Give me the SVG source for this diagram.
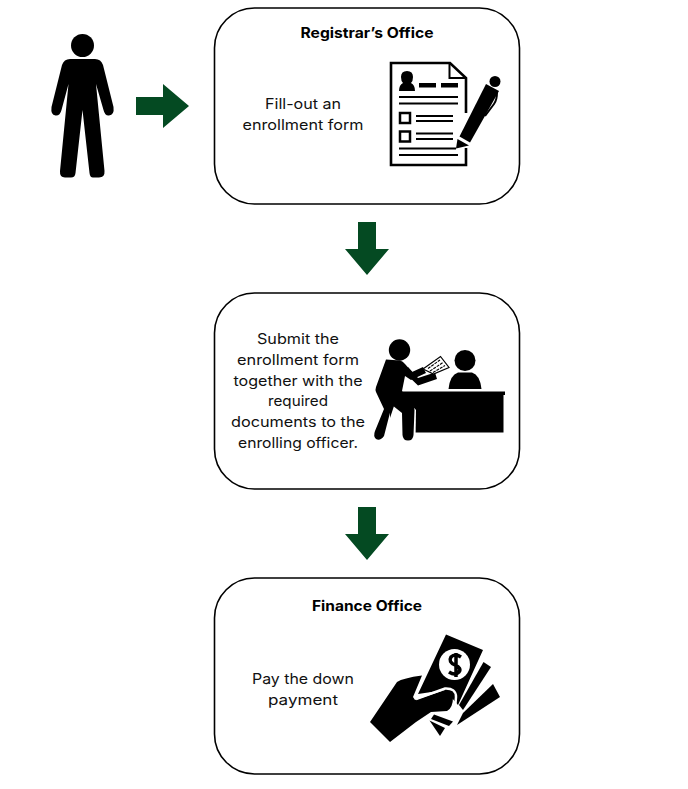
<svg xmlns="http://www.w3.org/2000/svg" width="688" height="789" viewBox="0 0 688 789">
<style>
.box{fill:#fff;stroke:#000;stroke-width:1.6}
.arrow{fill:#044a22}
.t{font-family:"Inter","Liberation Sans",sans-serif;font-size:14.4px;fill:#111;text-anchor:middle}
.h{font-family:"Inter","Liberation Sans",sans-serif;font-size:14.4px;font-weight:700;fill:#000;text-anchor:middle}
.k{fill:#000}
.w{fill:#fff}
.ln{stroke:#000;stroke-width:2;fill:none}
</style>
<rect width="688" height="789" fill="#fff"/>
<g id="connectors">
<polygon class="arrow" points="136,97 163,97 163,84 189,106 163,128 163,115 136,115"/>
<polygon class="arrow" points="358,222 376,222 376,249 389,249 367,275 345,249 358,249"/>
<polygon class="arrow" points="358,507 376,507 376,534 389,534 367,560 345,534 358,534"/>
</g>
<g id="person">
<circle class="k" cx="82.500" cy="45.500" r="11.500"/>
<path class="k" d="M70 59H95Q101 59 103 65L113.500 107Q114.500 115 109 115.500Q105 116 103.500 110L96 84L104.500 171Q105 177.500 99 177.500H93Q90 177.500 89.500 173L82.500 110L75.500 173Q75 177.500 71 177.500H65Q59.500 177.500 60 171L68.500 84L61.500 110Q60 116 55.500 115.500Q50.500 115 51.500 107L62 65Q64 59 70 59Z"/>
</g>
<g id="registrar">
<rect class="box" x="214.500" y="8" width="305" height="196" rx="40"/>
<text class="h" x="367" y="37.500" textLength="133" lengthAdjust="spacingAndGlyphs">Registrar’s Office</text>
<text class="t" x="303" y="109" textLength="76" lengthAdjust="spacingAndGlyphs">Fill-out an</text>
<text class="t" x="303" y="130" textLength="121" lengthAdjust="spacingAndGlyphs">enrollment form</text>
<g id="form-icon">
<path d="M466 113V78L450 63H391V165H466V148" fill="none" stroke="#000" stroke-width="2.600"/>
<path d="M449.500 63V78H466" fill="none" stroke="#000" stroke-width="2"/>
<path class="k" d="M407 71Q413 71 413 77Q413 81 411 83Q415 85 415 91H399Q399 85 403 83Q401 81 401 77Q401 71 407 71Z"/>
<rect class="k" x="419" y="83" width="17" height="4.500"/>
<rect class="k" x="441" y="83" width="17" height="4.500"/>
<path class="ln" d="M399 97H458M399 103.500H458M416 116H453M416 121H453M416 133.500H453M416 139H453M399 148.500H456M399 155H458"/>
<rect x="400" y="113" width="10" height="10" fill="none" stroke="#000" stroke-width="2.500"/>
<rect x="400" y="131.500" width="10" height="10" fill="none" stroke="#000" stroke-width="2.500"/>
<path class="k" d="M456 148.500L457.500 139L469 145.500Z"/>
<path class="k" d="M459.500 136.500L486 84L499 91L470 142.500Z"/>
<circle class="k" cx="495" cy="81.500" r="5.500"/>
<path d="M497 92Q497 100 494 104L485 116" fill="none" stroke="#000" stroke-width="2"/>
</g>
</g>
<g id="submit">
<rect class="box" x="214.500" y="293" width="305" height="196" rx="40"/>
<text class="t" x="298" y="344" textLength="82" lengthAdjust="spacingAndGlyphs">Submit the</text>
<text class="t" x="298" y="365" textLength="122" lengthAdjust="spacingAndGlyphs">enrollment form</text>
<text class="t" x="298" y="386" textLength="129" lengthAdjust="spacingAndGlyphs">together with the</text>
<text class="t" x="298" y="406" textLength="60" lengthAdjust="spacingAndGlyphs">required</text>
<text class="t" x="298" y="427" textLength="134" lengthAdjust="spacingAndGlyphs">documents to the</text>
<text class="t" x="298" y="448" textLength="120" lengthAdjust="spacingAndGlyphs">enrolling officer.</text>
<g id="officer-icon">
<circle class="k" cx="399.500" cy="350" r="10.700"/>
<circle class="k" cx="465" cy="360.500" r="10.500"/>
<path class="k" d="M448.500 389Q450 375 458 372.500H472Q480 375 481.500 389Z"/>
<path class="k" d="M402 391.500H505V395H503.500V432.500H390V405Z"/>
<path class="w" d="M399 391L416 410L415.500 440H399L385 433Z"/>
<path class="k" d="M386 359.500L400 360.500Q403 361 405 364L412 372L423 367L426 373L411 380L405 376L402 391L413 405Q414.500 407 414.500 410L413.500 435Q413 440.500 408 440.500Q403 440.500 402.500 435L402 413L392 405L384 436Q380 441.500 376 439Q373 436 375 431L384 409L376 392Q375 390 376 387Z"/>
<path class="k" d="M404 372L408 367L418 378L435 372.500L437 379L418 385.500Z"/>
<path class="w" d="M423 369L440.500 356.500L449 367.500L433.500 374Z" stroke="#000" stroke-width="1.200"/>
<path d="M428 368.500L440 360M430 371L443 362.500M433 372.500L445 365.500" stroke="#000" stroke-width="1.100" stroke-dasharray="3 1" fill="none"/>
</g>
</g>
<g id="finance">
<rect class="box" x="214.500" y="578" width="305" height="196" rx="40"/>
<text class="h" x="367" y="610.500" textLength="110" lengthAdjust="spacingAndGlyphs">Finance Office</text>
<text class="t" x="303" y="684" textLength="102" lengthAdjust="spacingAndGlyphs">Pay the down</text>
<text class="t" x="303" y="705" textLength="70" lengthAdjust="spacingAndGlyphs">payment</text>
<g id="money-icon">
<path class="k" d="M446 634.500L483 650L458 705L445 690L418 694Z"/>
<circle class="w" cx="454.500" cy="664.500" r="15.500"/>
<path d="M461 657Q455 653 451 657Q448 662 455 665Q462 668 459 672Q455 676 449 672M456 653V677" fill="none" stroke="#000" stroke-width="3.500"/>
<path class="k" d="M483.500 662L491 667L463 710L459 705Z"/>
<path class="k" d="M493 684L500 697L457 725L463 713Z"/>
<path class="k" d="M434 714.500L453 721.500L449 726L431 719Z"/>
<path class="k" d="M429.500 720.500L445 728L440 736Z"/>
<path class="k" d="M370 722L397 682Q403 678 422 675.500L413 697L415 700L445 690Q453 689 453 697Q453 708 447 711L431 712L416 722L390 742Z"/>
<path d="M416 699L445 688.500Q456 688 456 697Q456 709 449 713" fill="none" stroke="#fff" stroke-width="2.500"/>
</g>
</g>
</svg>
